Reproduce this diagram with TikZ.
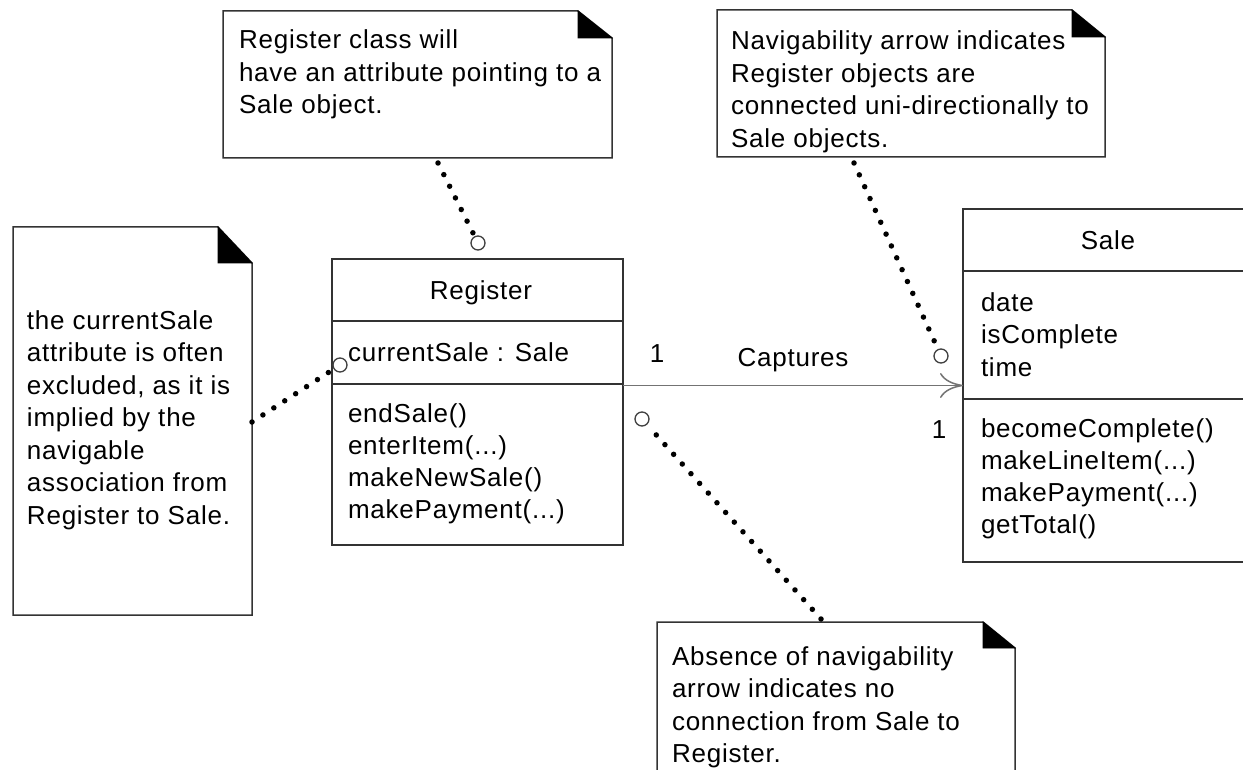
\documentclass[tikz,border=0pt]{standalone}
\usepackage{fontspec}
\setmainfont{Liberation Sans}[LetterSpace=3]
\usetikzlibrary{arrows.meta}
\newcommand\notefold[3]{%
  \draw[boxline] (#1.north west) -- ([xshift=-#2pt]#1.north east) -- ([yshift=-#3pt]#1.north east) -- (#1.south east) -- (#1.south west) -- cycle;
  \filldraw[black, line width=0.8pt, line join=miter] ([xshift=-#2pt]#1.north east) -- ([xshift=-#2pt,yshift=-#3pt]#1.north east) -- ([yshift=-#3pt]#1.north east) -- cycle;}
\begin{document}
\begin{tikzpicture}[x=1pt,y=-1pt,
  font=\fontsize{26pt}{32.5pt}\selectfont,
  boxline/.style={draw=black!80, line width=1.5pt},
  classbox/.style={rectangle, boxline, inner sep=0pt, outer sep=0pt, anchor=north west},
  noteframe/.style={rectangle, inner sep=0pt, outer sep=0pt, anchor=north west},
  txt/.style={inner sep=0pt, outer sep=0pt, align=left, anchor=north west},
  tighttxt/.style={txt, font=\fontsize{26pt}{32pt}\selectfont},
  lbl/.style={inner sep=0pt, anchor=base},
  endc/.style={circle, draw=black!75, line width=1.3pt, minimum size=14pt, inner sep=0pt},
  dotline/.style={line width=5.5pt, dash pattern=on 0pt off 13pt, line cap=round, shorten >=3pt},
  assoc/.style={draw=black!55, line width=1.5pt, -{Computer Modern Rightarrow[length=23pt,width=25pt,line width=1.5pt]}}
]
\clip (0,0) rectangle (1243,770);
\fill[white] (0,0) rectangle (1243,770);

% notes
\node[noteframe, minimum width=389pt, minimum height=147pt] (n1) at (223,11) {};
\notefold{n1}{34}{27}
\node[txt] (t1) at (239,26.25) {\strut Register class will\\have an attribute pointing to a\\Sale object.};

\node[noteframe, minimum width=388pt, minimum height=147pt] (n2) at (717,10) {};
\notefold{n2}{33}{27}
\node[txt] (t2) at (731,27.25) {\strut Navigability arrow indicates\\Register objects are\\connected uni-directionally to\\Sale objects.};

\node[noteframe, minimum width=239pt, minimum height=388pt] (n3) at (13,227) {};
\notefold{n3}{34}{36}
\node[txt] (t3) at (27,306.25) {\strut the currentSale\\attribute is often\\excluded, as it is\\implied by the\\navigable\\association from\\Register to Sale.};

\node[noteframe, minimum width=358pt, minimum height=200pt] (n4) at (657,622) {};
\notefold{n4}{32}{26}
\node[txt] (t4) at (672,642.25) {\strut Absence of navigability\\arrow indicates no\\connection from Sale to\\Register.};

% Register class
\node[classbox, minimum width=291pt, minimum height=286pt] (reg) at (332,259) {};
\draw[boxline] ([yshift=-62pt]reg.north west) -- ([yshift=-62pt]reg.north east);
\draw[boxline] ([yshift=-125pt]reg.north west) -- ([yshift=-125pt]reg.north east);
\node[lbl] (regname) at (481,299) {Register};
\node[lbl, anchor=base west] (regattr) at (348,361) {currentSale : Sale};
\node[tighttxt] (regops) at (348,399.6) {\strut endSale()\\enterItem(...)\\makeNewSale()\\makePayment(...)};

% Sale class
\node[classbox, minimum width=288pt, minimum height=353pt] (sale) at (963,209) {};
\draw[boxline] ([yshift=-62pt]sale.north west) -- ([yshift=-62pt]sale.north east);
\draw[boxline] ([yshift=-190pt]sale.north west) -- ([yshift=-190pt]sale.north east);
\node[lbl] (salename) at (1108,250) {Sale};
\node[txt] (saleattr) at (981,288.25) {\strut date\\isComplete\\time};
\node[tighttxt] (saleops) at (981,414.6) {\strut becomeComplete()\\makeLineItem(...)\\makePayment(...)\\getTotal()};

% association
\draw[assoc] (reg.east |- sale.west) -- (sale.west);
\node[lbl] (m1) at (657,362) {1};
\node[lbl] (cap) at (793,366) {Captures};
\node[lbl] (m2) at (939,438) {1};

% anchor circles
\node[endc] (c1) at (478,243) {};
\node[endc] (c2) at (941,356) {};
\node[endc] (c3) at (340,365) {};
\node[endc] (c4) at (642,419) {};

% dotted note connectors
\coordinate (d1) at (438,163);
\coordinate (d2) at (854,163);
\coordinate (d3) at (252,422);
\coordinate (d4) at (821,619);
\draw[dotline] (d1) -- (c1);
\draw[dotline] (d2) -- (c2);
\draw[dotline] (d3) -- (c3);
\draw[dotline] (d4) -- (c4);
\end{tikzpicture}
\end{document}
